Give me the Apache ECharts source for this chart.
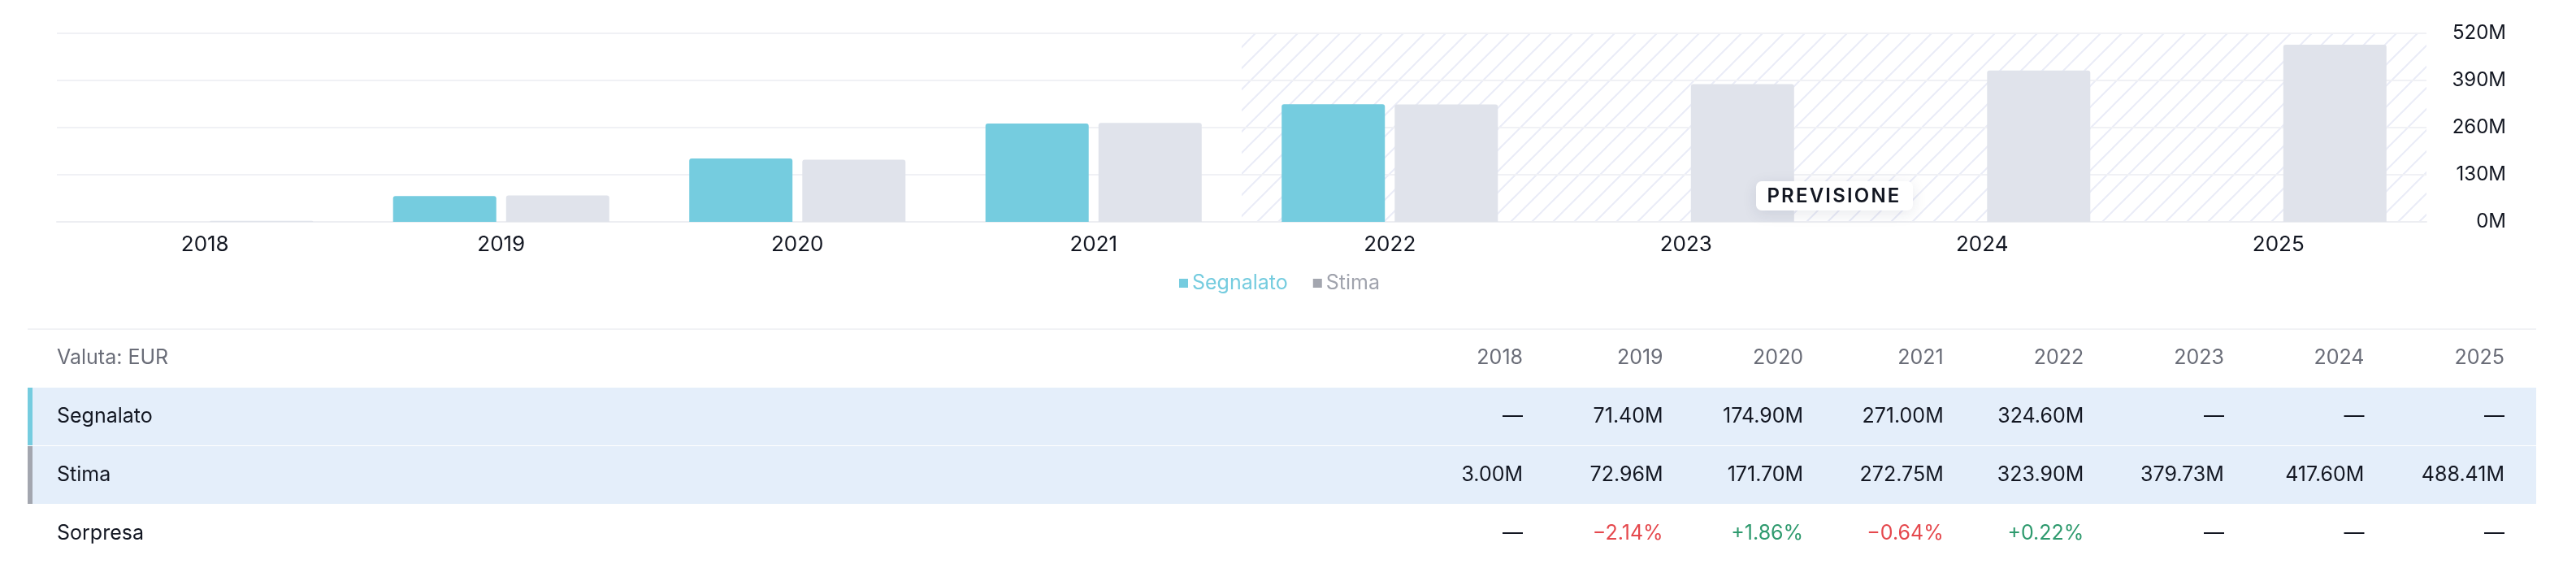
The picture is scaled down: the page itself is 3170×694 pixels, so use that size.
<!DOCTYPE html>
<html>
<head>
<meta charset="utf-8">
<script src="https://cdn.jsdelivr.net/npm/echarts@6/dist/echarts.min.js"></script>
<style>
  html,body{margin:0;padding:0;background:#fff;}
  body{width:3170px;height:694px;position:relative;overflow:hidden;font-family:Inter,"Noto Sans",sans-serif;}
  #chart{position:absolute;left:0;top:0;width:3170px;height:400px;}
  #table{position:absolute;left:0;top:0;width:3170px;height:694px;}
  .cell{position:absolute;white-space:nowrap;font-size:25px;line-height:30px;}
  #forecast{position:absolute;background:#fff;border-radius:7px;box-shadow:0 4px 18px rgba(30,40,80,0.10);
    font-size:24px;font-weight:600;letter-spacing:2.2px;color:#131722;line-height:36px;height:36px;
    text-align:center;width:193px;display:none;}
</style>
</head>
<body>
<div id="chart"></div>
<div id="table"></div>
<div id="forecast">PREVISIONE</div>
<script>
// ---- data ----
const categories = ['2018','2019','2020','2021','2022','2023','2024','2025'];
const reported   = [null, 71.40, 174.90, 271.00, 324.60, null, null, null];
const estimate   = [3.00, 72.96, 171.70, 272.75, 323.90, 379.73, 417.60, 488.41];
const surprise   = [null, -2.14, 1.86, -0.64, 0.22, null, null, null];
const yTicks     = [0, 130, 260, 390, 520];
const forecastFrom = '2022';
const forecastTo   = '2025';
const currencyLabel = 'Valuta: EUR';
const rowNames = ['Segnalato', 'Stima', 'Sorpresa'];

// ---- styles ----
const C_REP = '#75CCDF';
const C_EST = '#E0E3EB';
const C_EST_LEGEND = '#A3A6AF';
const C_TEXT = '#131722';
const C_MUTED = '#6A6D78';

const chart = echarts.init(document.getElementById('chart'), null, {renderer:'canvas'});

function makeHatch(){
  const s = 26;
  const c = document.createElement('canvas');
  c.width = s; c.height = s;
  const g = c.getContext('2d');
  g.strokeStyle = '#EAECF7';
  g.lineWidth = 2;
  g.beginPath();
  g.moveTo(0, s); g.lineTo(s, 0);
  g.moveTo(-s/2, s/2); g.lineTo(s/2, -s/2);
  g.moveTo(s/2, s + s/2); g.lineTo(s + s/2, s/2);
  g.stroke();
  return c;
}

const option = {
  animation: false,
  textStyle: {fontFamily: 'Inter'},
  grid: {left: 70, right: 184, top: 41, bottom: 127, containLabel: false, outerBoundsMode: 'none'},
  legend: {
    left: 1451, top: 336, padding: 0,
    icon: 'rect', itemWidth: 11, itemHeight: 11, itemGap: 31,
    textStyle: {fontSize: 25, fontFamily: 'Inter'},
    data: [
      {name: 'Segnalato', textStyle: {color: C_REP}, itemStyle: {color: C_REP}},
      {name: 'Stima', textStyle: {color: '#A0A3AD'}, itemStyle: {color: C_EST_LEGEND}}
    ],
    selectedMode: false
  },
  xAxis: {
    type: 'category',
    data: categories,
    axisTick: {show: false},
    axisLine: {show: true, lineStyle: {color: '#EDEEF2', width: 2}},
    axisLabel: {color: C_TEXT, fontSize: 26, margin: 15, fontFamily: 'Inter'},
    splitLine: {show: false}
  },
  yAxis: {
    type: 'value',
    position: 'right',
    min: yTicks[0], max: yTicks[yTicks.length-1], interval: yTicks[1]-yTicks[0],
    axisLine: {show: false},
    axisTick: {show: false},
    splitLine: {show: true, lineStyle: {color: '#F0F1F5', width: 2}},
    axisLabel: {color: C_TEXT, fontSize: 24, align: 'right', margin: 98, fontFamily: 'Inter',
      formatter: v => v + 'M'}
  },
  series: [
    {name: 'Segnalato', type: 'bar', data: reported, barWidth: 127, barGap: '9.5%',
      itemStyle: {color: C_REP, borderRadius: [3,3,0,0]}, z: 3},
    {name: 'Stima', type: 'bar', data: estimate, barWidth: 127, barGap: '9.5%',
      itemStyle: {color: C_EST, borderRadius: [3,3,0,0]}, z: 3}
  ]
};
chart.setOption(option);

// hatched forecast zone from axis scales
const cFrom = chart.convertToPixel({xAxisIndex: 0}, forecastFrom);
const cNext = chart.convertToPixel({xAxisIndex: 0}, categories[categories.indexOf(forecastFrom)+1]);
const cTo   = chart.convertToPixel({xAxisIndex: 0}, forecastTo);
const half = (cNext - cFrom) / 2;
const x0 = cFrom - half, x1 = cTo + half;
const yTop = chart.convertToPixel({yAxisIndex: 0}, yTicks[yTicks.length-1]);
const yBot = chart.convertToPixel({yAxisIndex: 0}, yTicks[0]);
chart.setOption({
  graphic: {elements: [{
    type: 'rect', silent: true, z: -10, zlevel: 0,
    shape: {x: x0, y: yTop, width: x1 - x0, height: yBot - yTop},
    style: {fill: {image: makeHatch(), repeat: 'repeat'}}
  }]}
});

const fc = document.getElementById('forecast');
fc.style.display = 'block';
fc.style.left = ((x0 + x1) / 2 - 96.5) + 'px';
fc.style.top = (yBot - 50) + 'px';

// ---- table ----
const T = document.getElementById('table');
const TL = 34, TR = 3121, LAST_RIGHT = 3082, COL_W = 172.57;
const lineY = 404;
const rows = [
  {top: 404, h: 73},
  {top: 477, h: 71, bg: '#E4EEFA', accent: C_REP},
  {top: 549, h: 71, bg: '#E4EEFA', accent: C_EST_LEGEND},
  {top: 621, h: 71}
];
function div(css, text){
  const d = document.createElement('div');
  Object.assign(d.style, css);
  if (text !== undefined) d.textContent = text;
  T.appendChild(d);
  return d;
}
div({position:'absolute', left: TL+'px', top: lineY+'px', width: (TR-TL)+'px', height:'2px', background:'#F1F2F5'});
rows.forEach(r => {
  if (r.bg) div({position:'absolute', left: TL+'px', top: r.top+'px', width:(TR-TL)+'px', height: r.h+'px', background: r.bg});
  if (r.accent) div({position:'absolute', left: TL+'px', top: r.top+'px', width:'6px', height: r.h+'px', background: r.accent});
});
function cellText(rowIdx, text, color, rightEdge, leftEdge){
  const r = rows[rowIdx];
  const d = div({top: (r.top + r.h/2 - 17) + 'px', color: color}, text);
  d.className = 'cell';
  if (leftEdge !== undefined) d.style.left = leftEdge + 'px';
  else { d.style.right = (3170 - rightEdge) + 'px'; d.style.textAlign = 'right'; }
}
cellText(0, currencyLabel, C_MUTED, null, 70);
rowNames.forEach((n, i) => cellText(i+1, n, C_TEXT, null, 70));
const fmtM = v => v == null ? '—' : v.toFixed(2) + 'M';
const fmtP = v => v == null ? '—' : (v < 0 ? '\u2212' + Math.abs(v).toFixed(2) : '+' + v.toFixed(2)) + '%';
categories.forEach((c, i) => {
  const right = LAST_RIGHT - (categories.length - 1 - i) * COL_W;
  cellText(0, c, C_MUTED, right);
  cellText(1, fmtM(reported[i]), C_TEXT, right);
  cellText(2, fmtM(estimate[i]), C_TEXT, right);
  const s = surprise[i];
  cellText(3, fmtP(s), s == null ? C_TEXT : (s < 0 ? '#E5484D' : '#2E9A6E'), right);
});
</script>
</body>
</html>
